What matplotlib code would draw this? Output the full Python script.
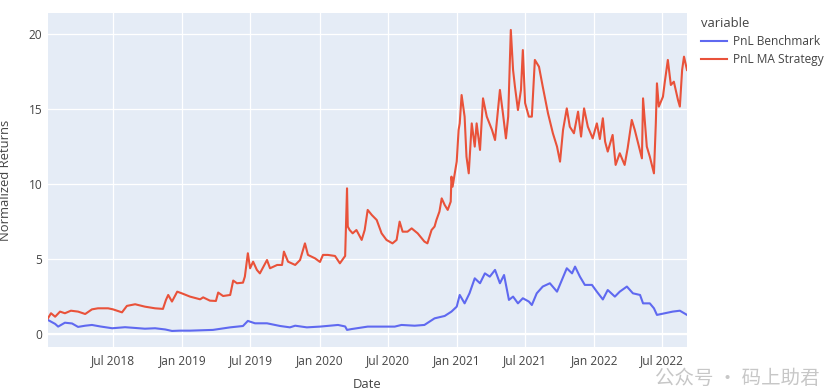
import pandas as pd
import matplotlib
matplotlib.use("Agg")
import matplotlib.pyplot as plt
import matplotlib.dates as mdates

plt.rcParams['font.family'] = ['Open Sans', 'DejaVu Sans']

# PnL MA Strategy
strat_dates = [
    "2018-01-08", "2018-01-16", "2018-01-27", "2018-02-09", "2018-02-22", "2018-03-10",
    "2018-03-29", "2018-04-17", "2018-05-05", "2018-05-21", "2018-06-17", "2018-06-30",
    "2018-07-24", "2018-08-06", "2018-08-28", "2018-09-23", "2018-10-20", "2018-11-10",
    "2018-11-18", "2018-11-24", "2018-12-04", "2018-12-18", "2018-12-31", "2019-01-21",
    "2019-02-17", "2019-02-25", "2019-03-15", "2019-03-31", "2019-04-06", "2019-04-19",
    "2019-05-08", "2019-05-16", "2019-05-26", "2019-06-11", "2019-06-16", "2019-06-24",
    "2019-06-30", "2019-07-08", "2019-07-18", "2019-07-26", "2019-08-14", "2019-08-22",
    "2019-09-10", "2019-09-23", "2019-09-28", "2019-10-09", "2019-10-28", "2019-11-10",
    "2019-11-23", "2019-12-01", "2019-12-20", "2020-01-02", "2020-01-10", "2020-01-23",
    "2020-02-11", "2020-02-24", "2020-03-09", "2020-03-14", "2020-03-16", "2020-03-21",
    "2020-03-29", "2020-04-08", "2020-04-22", "2020-04-30", "2020-05-08", "2020-05-19",
    "2020-06-01", "2020-06-14", "2020-06-27", "2020-07-13", "2020-07-24", "2020-08-01",
    "2020-08-09", "2020-08-22", "2020-09-02", "2020-09-18", "2020-10-06", "2020-10-14",
    "2020-10-25", "2020-11-02", "2020-11-07", "2020-11-15", "2020-11-21", "2020-11-29",
    "2020-12-07", "2020-12-15", "2020-12-17", "2020-12-20", "2020-12-31", "2021-01-05",
    "2021-01-08", "2021-01-13", "2021-01-21", "2021-01-26", "2021-02-01", "2021-02-09",
    "2021-02-17", "2021-02-22", "2021-03-03", "2021-03-11", "2021-03-21", "2021-04-04",
    "2021-04-12", "2021-04-25", "2021-05-03", "2021-05-11", "2021-05-17", "2021-05-24",
    "2021-05-30", "2021-06-04", "2021-06-12", "2021-06-20", "2021-06-25", "2021-07-01",
    "2021-07-11", "2021-07-19", "2021-07-27", "2021-08-07", "2021-08-17", "2021-08-31",
    "2021-09-13", "2021-09-24", "2021-10-02", "2021-10-10", "2021-10-20", "2021-10-28",
    "2021-11-08", "2021-11-19", "2021-11-27", "2021-12-05", "2021-12-15", "2021-12-28",
    "2022-01-08", "2022-01-16", "2022-01-24", "2022-01-30", "2022-02-06", "2022-02-19",
    "2022-02-27", "2022-03-10", "2022-03-23", "2022-03-31", "2022-04-11", "2022-04-19",
    "2022-04-30", "2022-05-08", "2022-05-11", "2022-05-21", "2022-05-29", "2022-06-09",
    "2022-06-14", "2022-06-17", "2022-06-22", "2022-07-03", "2022-07-08", "2022-07-16",
    "2022-07-24", "2022-08-01", "2022-08-12", "2022-08-17", "2022-08-23", "2022-08-28",
    "2022-09-05",
]
strat_values = [
    1.05, 1.38, 1.15, 1.49, 1.38, 1.55,
    1.49, 1.33, 1.64, 1.71, 1.71, 1.64,
    1.44, 1.87, 1.98, 1.82, 1.71, 1.67,
    2.27, 2.60, 2.16, 2.82, 2.70, 2.49,
    2.31, 2.44, 2.22, 2.20, 2.76, 2.53,
    2.60, 3.56, 3.38, 3.42, 3.82, 5.38,
    4.38, 4.82, 4.27, 4.04, 4.93, 4.38,
    4.60, 4.60, 5.49, 4.82, 4.60, 4.93,
    6.04, 5.27, 5.04, 4.80, 5.27, 5.27,
    5.20, 4.71, 5.20, 9.71, 7.16, 6.93,
    6.71, 6.93, 6.27, 6.93, 8.27, 7.93,
    7.60, 6.71, 6.27, 6.04, 6.27, 7.49,
    6.82, 6.82, 7.04, 6.71, 6.16, 6.04,
    6.93, 7.16, 7.60, 8.16, 9.04, 8.60,
    8.27, 8.82, 10.49, 9.82, 11.50, 13.60,
    14.04, 15.93, 14.49, 11.82, 10.71, 14.04,
    12.49, 14.04, 12.27, 15.71, 14.49, 13.60,
    12.93, 16.27, 14.71, 13.04, 14.49, 20.27,
    17.60, 16.49, 14.93, 16.27, 18.93, 15.40,
    14.49, 14.49, 18.27, 17.82, 16.49, 14.71,
    13.38, 12.49, 11.49, 13.60, 15.04, 13.82,
    13.38, 14.82, 13.16, 15.04, 13.82, 13.04,
    14.04, 13.00, 14.38, 12.82, 12.16, 13.27,
    11.27, 12.05, 11.27, 12.38, 14.27, 13.60,
    12.49, 11.71, 15.71, 12.49, 11.82, 10.71,
    14.04, 16.71, 15.16, 15.82, 16.82, 18.27,
    16.60, 16.82, 15.60, 15.16, 17.60, 18.49,
    17.60,
]

# PnL Benchmark
bench_dates = [
    "2018-01-08", "2018-01-27", "2018-02-04", "2018-02-22", "2018-03-13", "2018-03-29",
    "2018-04-17", "2018-05-05", "2018-05-27", "2018-06-28", "2018-08-01", "2018-08-28",
    "2018-09-23", "2018-10-20", "2018-11-16", "2018-12-04", "2018-12-25", "2019-01-21",
    "2019-03-23", "2019-05-08", "2019-06-11", "2019-06-24", "2019-07-13", "2019-08-14",
    "2019-09-18", "2019-10-14", "2019-10-28", "2019-11-28", "2020-01-02", "2020-02-19",
    "2020-03-09", "2020-03-14", "2020-03-27", "2020-05-08", "2020-07-19", "2020-08-06",
    "2020-09-10", "2020-10-06", "2020-11-02", "2020-11-29", "2020-12-17", "2020-12-31",
    "2021-01-08", "2021-01-21", "2021-02-03", "2021-02-17", "2021-03-03", "2021-03-16",
    "2021-03-29", "2021-04-12", "2021-04-25", "2021-05-06", "2021-05-19", "2021-05-30",
    "2021-06-12", "2021-06-25", "2021-07-11", "2021-07-19", "2021-08-01", "2021-08-17",
    "2021-09-05", "2021-09-24", "2021-10-07", "2021-10-20", "2021-11-03", "2021-11-11",
    "2021-11-24", "2021-12-07", "2021-12-26", "2022-01-08", "2022-01-24", "2022-02-06",
    "2022-02-25", "2022-03-10", "2022-03-29", "2022-04-14", "2022-05-03", "2022-05-11",
    "2022-05-29", "2022-06-09", "2022-06-17", "2022-07-08", "2022-07-29", "2022-08-17",
    "2022-09-05",
]
bench_values = [
    0.93, 0.67, 0.49, 0.75, 0.70, 0.47,
    0.55, 0.60, 0.50, 0.38, 0.45, 0.40,
    0.35, 0.38, 0.30, 0.20, 0.22, 0.22,
    0.27, 0.44, 0.53, 0.87, 0.71, 0.71,
    0.53, 0.44, 0.55, 0.44, 0.49, 0.60,
    0.50, 0.27, 0.33, 0.49, 0.49, 0.60,
    0.55, 0.60, 1.04, 1.20, 1.49, 1.82,
    2.60, 2.04, 2.71, 3.71, 3.38, 4.04,
    3.82, 4.27, 3.38, 3.93, 2.27, 2.49,
    2.04, 2.38, 2.16, 1.93, 2.71, 3.16,
    3.38, 2.82, 3.60, 4.38, 4.04, 4.49,
    3.82, 3.27, 3.27, 2.82, 2.30, 2.93,
    2.49, 2.82, 3.16, 2.71, 2.60, 2.04,
    2.04, 1.71, 1.27, 1.38, 1.49, 1.55,
    1.27,
]

bench = pd.Series(bench_values, index=pd.to_datetime(bench_dates))
strat = pd.Series(strat_values, index=pd.to_datetime(strat_dates))

fig = plt.figure(figsize=(8.28, 3.91), dpi=100)
ax = fig.add_axes([48 / 828, 44 / 391, 639 / 828, 334 / 391])
ax.set_facecolor('#E5ECF6')

ax.plot(bench.index, bench.values, color='#5F69F0', lw=1.5, label='PnL Benchmark', zorder=3)
ax.plot(strat.index, strat.values, color='#E9523A', lw=1.5, label='PnL MA Strategy', zorder=3)

ax.set_xlim(bench.index[0], bench.index[-1])
ax.set_ylim(-0.87, 21.4)
ax.set_yticks([0, 5, 10, 15, 20])
ax.xaxis.set_major_locator(mdates.MonthLocator(bymonth=[1, 7]))
ax.xaxis.set_major_formatter(mdates.DateFormatter('%b %Y'))

ax.grid(True, color='white', lw=0.9)
ax.set_axisbelow(True)
ax.axhline(0, color='white', lw=1.6, zorder=1)
for s in ax.spines.values():
    s.set_visible(False)

txt = '#444444'
ax.tick_params(axis='both', length=0, labelsize=8.6, colors=txt)
ax.tick_params(axis='x', pad=5)
ax.tick_params(axis='y', pad=4)
ax.set_xlabel('Date', fontsize=9.4, color=txt, labelpad=8)
ax.set_ylabel('Normalized Returns', fontsize=9.4, color=txt, labelpad=12)

leg = ax.legend(title='variable', loc='upper left', bbox_to_anchor=(1.016, 1.0),
                frameon=False, fontsize=8.6, title_fontsize=9.4,
                handlelength=2.2, handletextpad=0.5, labelspacing=0.45,
                borderaxespad=0.0, borderpad=0.3)
leg._legend_box.align = 'left'
for t in leg.get_texts():
    t.set_color(txt)
leg.get_title().set_color(txt)

# watermark (kept clear of the tick labels)
fig.text(0.99, 0.004, '公众号 · 码上助君', ha='right', va='bottom', fontsize=14,
         color='#bdbdbd', alpha=0.85, family=['Noto Sans CJK SC', 'DejaVu Sans'])

fig.savefig('out.png', dpi=100)
